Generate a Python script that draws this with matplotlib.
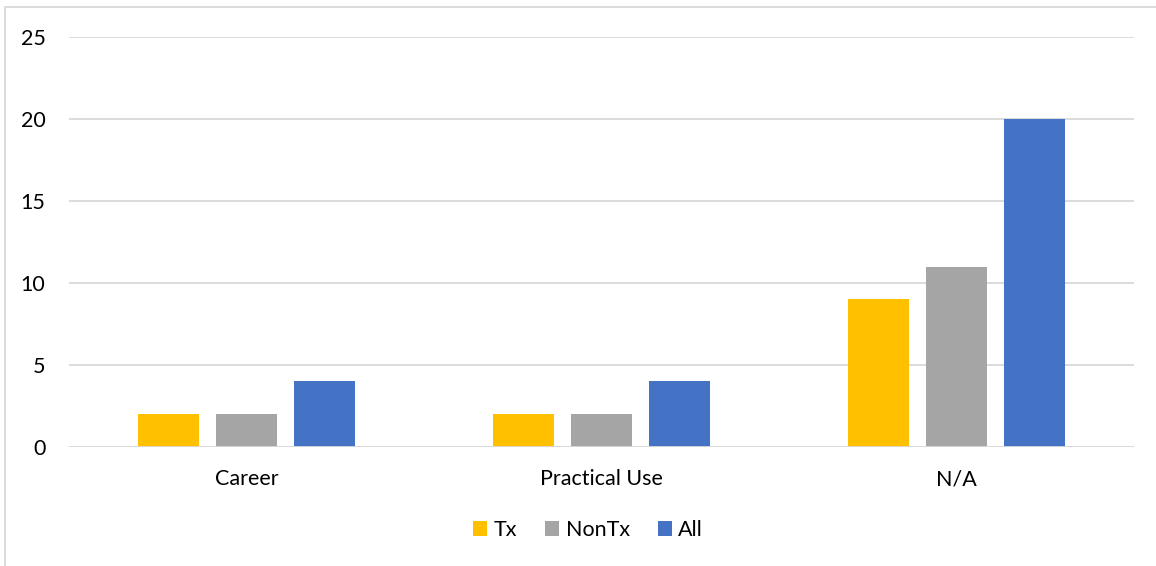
import matplotlib
matplotlib.use("Agg")
import matplotlib.pyplot as plt
import numpy as np
from matplotlib.patches import Patch, Rectangle

categories = ["Career", "Practical Use", "N/A"]
series_names = ["Tx", "NonTx", "All"]
tx = [2, 2, 9]
nontx = [2, 2, 11]
all_vals = [4, 4, 20]
yticks = [0, 5, 10, 15, 20, 25]
colors = ["#FFC000", "#A5A5A5", "#4472C4"]

plt.rcParams['font.family'] = ['Lato', 'DejaVu Sans']

W, H = 1156, 566
fs = 15.5
fig = plt.figure(figsize=(W / 100, H / 100), dpi=100)
ax = fig.add_axes([69 / W, 1 - 447 / H, (1134 - 69) / W, (447 - 37) / H])

x = np.arange(len(categories))
bw = 0.172
step = 0.22
for i, (vals, c) in enumerate(zip([tx, nontx, all_vals], colors)):
    ax.bar(x + (i - 1) * step, vals, width=bw, color=c, zorder=3)

ax.set_xlim(-0.5, len(categories) - 0.5)
ax.set_ylim(0, 25)
ax.set_yticks(yticks)
ax.set_yticklabels([str(v) for v in yticks], fontsize=fs)
ax.set_xticks(x)
ax.set_xticklabels(categories, fontsize=fs)
ax.tick_params(axis='both', length=0, colors='#000000')
ax.tick_params(axis='y', pad=17)
ax.tick_params(axis='x', pad=16)
ax.grid(axis='y', color='#D9D9D9', linewidth=1.3, zorder=0)
for s in ax.spines.values():
    s.set_visible(False)
ax.axhline(0, color='#D9D9D9', linewidth=1.3, zorder=4)

handles = [Patch(facecolor=c, edgecolor='none', label=n) for c, n in zip(colors, series_names)]
fig.legend(handles=handles, loc='center', bbox_to_anchor=(588 / W, 1 - 530 / H), ncol=3,
           frameon=False, fontsize=fs, handlelength=0.65, handleheight=0.65,
           handletextpad=0.3, columnspacing=1.3)

fig.patches.append(Rectangle((5 / W, -0.1), 1.2, 1 - 7 / H + 0.1, transform=fig.transFigure,
                             fill=False, edgecolor='#D9D9D9', linewidth=1.3))

fig.savefig("out.png", dpi=100)
